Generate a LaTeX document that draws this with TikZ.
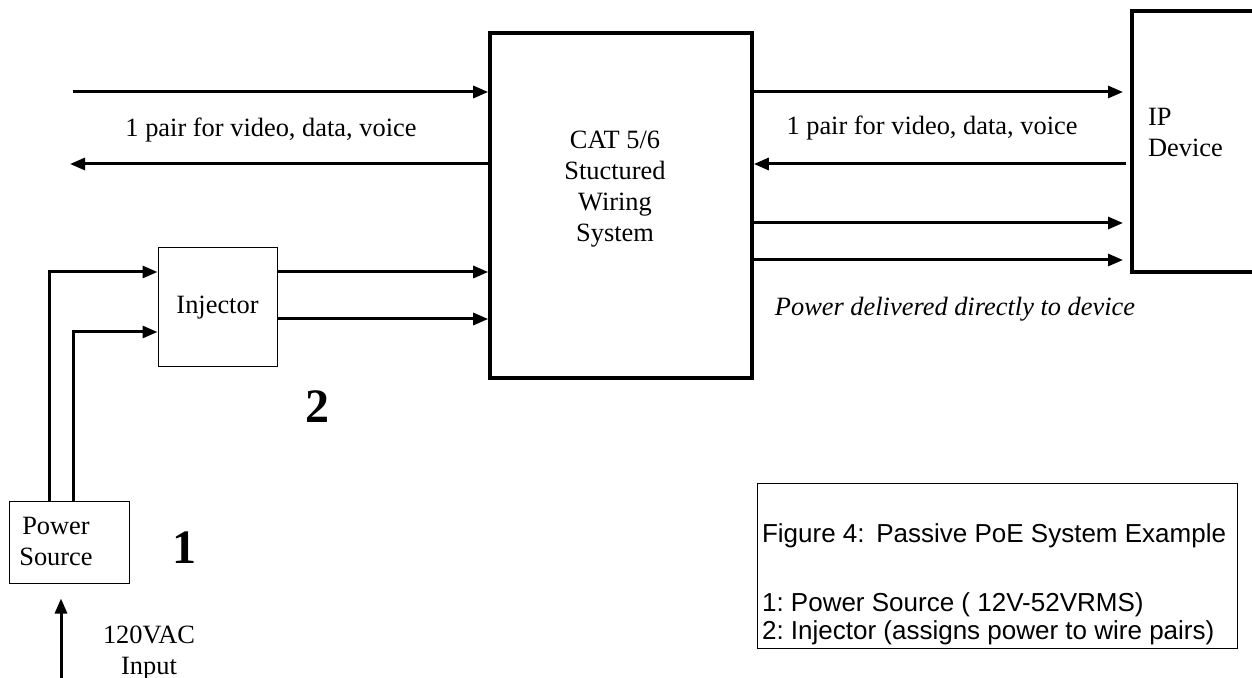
\documentclass[tikz,border=0pt]{standalone}
\usepackage{fontspec}
\setmainfont{Liberation Serif}
\setsansfont{Liberation Sans}
\usetikzlibrary{arrows.meta}
\frenchspacing
\begin{document}
\begin{tikzpicture}[x=0.5pt, y=-0.5pt, font=\fontsize{13.2}{15.5}\selectfont,
  wire/.style = {line width=1.5pt, -{Triangle[length=7.5pt, width=6pt]}},
  thinbox/.style = {draw, line width=0.5pt, inner sep=0pt},
  heavybox/.style = {draw, line width=1.8pt, inner sep=0pt},
  num/.style = {font=\fontsize{24}{24}\selectfont\bfseries}]
                \useasboundingbox (0,0) rectangle (1252,678);
                % boxes
                \node[heavybox, minimum width=131pt, minimum height=172.5pt] (cat) at (621,205.5) {};
                \node[align=center] (cattxt) at (615,189) {CAT 5/6\\Stuctured\\Wiring\\System};
                \node[thinbox, minimum width=59.5pt, minimum height=59.5pt] (inj) at (217.5,307.5) {Injector};
                \node[thinbox, minimum width=60pt, minimum height=41pt] (pwr) at (69,542) {};
                \node[align=center] (pwrtxt) at (56,541) {Power\\Source};
                \node[heavybox, minimum width=80pt, minimum height=130.5pt, anchor=north west] (ip) at (1130,9) {};
                \node[align=left, anchor=west] (iptxt) at (1141,132) {IP\\Device};
                \node[thinbox, minimum width=240pt, minimum height=82.5pt] (cap) at (997,565.5) {};
                \node[font=\sffamily\fontsize{13}{14}\selectfont, align=left, anchor=west] (captxt) at (755,584)
                    {Figure 4:\hspace{0.45em}Passive PoE System Example\\[20.5pt]1: Power Source ( 12V-52VRMS)\\2: Injector (assigns power to wire pairs)};
                % free ends
                \coordinate (lin) at (73,92);
                \coordinate (lout) at (70,164);
                \coordinate (acin) at (61,700);
                % wires
                \draw[wire] (lin) -- (cat.west |- lin);
                \draw[wire] (cat.west |- lout) -- (lout);
                \draw[wire] (pwr.north -| 49,0) |- (inj.west |- 0,272);
                \draw[wire] (pwr.north -| 73,0) |- (inj.west |- 0,332);
                \draw[wire] (inj.east |- 0,272) -- (cat.west |- 0,272);
                \draw[wire] (inj.east |- 0,319) -- (cat.west |- 0,319);
                \draw[wire, shorten >=3.5pt] (cat.east |- 0,92) -- (ip.west |- 0,92);
                \draw[wire, shorten <=2pt] (ip.west |- 0,164) -- (cat.east |- 0,164);
                \draw[wire, shorten >=3.5pt] (cat.east |- 0,223) -- (ip.west |- 0,223);
                \draw[wire, shorten >=3.5pt] (cat.east |- 0,260) -- (ip.west |- 0,260);
                \draw[wire, shorten >=7.5pt] (acin) -- (pwr.south -| acin);
                % labels
                \node (lpair) at (271,130) {1 pair for video, data, voice};
                \node (rpair) at (932,128) {1 pair for video, data, voice};
                \node[font=\fontsize{13.2}{15.5}\selectfont\itshape] (pwrdel) at (955,309) {Power delivered directly to device};
                \node[align=center] (acTxt) at (149,653) {120VAC\\Input};
                \node[num] (n1) at (184,548) {1};
                \node[num] (n2) at (317,407) {2};
            \end{tikzpicture}
\end{document}
